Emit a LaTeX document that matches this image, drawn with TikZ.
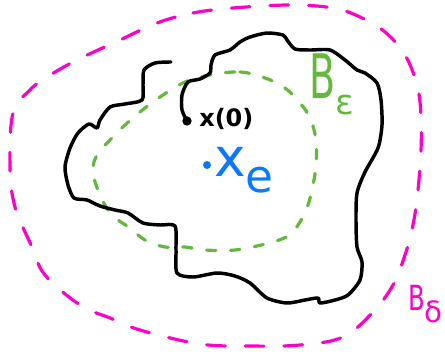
\documentclass[tikz,border=0pt]{standalone}
\usepackage{fontspec}
\setsansfont{DejaVu Sans}
\definecolor{mag}{RGB}{255,0,200}
\definecolor{grn}{RGB}{100,185,60}
\definecolor{blu}{RGB}{10,120,255}
\tikzset{
  traj/.style={line width=2.6pt, line join=round, line cap=round},
  greenball/.style={grn, line width=2.4pt, line cap=round, dash pattern=on 7pt off 11pt},
  pinkball/.style={mag, line width=2.4pt, line cap=round, dash pattern=on 14pt off 15pt},
  lbl/.style={inner sep=0pt, font=\sffamily},
}
\begin{document}
\begin{tikzpicture}[x=0.75pt,y=-0.75pt]
\useasboundingbox (0,0) rectangle (445,353);
% outer magenta dashed region B_delta
\draw[pinkball] plot[smooth cycle, tension=0.6] coordinates {
 (157,23) (193,13) (233,8) (290,5) (333,8) (360,17) (385,32) (405,55) (417,85)
 (421,115) (421,150) (418,190) (413,225) (405,255) (393,285) (373,312) (343,337)
 (300,345) (250,346) (200,344) (140,330) (110,318) (80,305) (45,275) (32,247)
 (15,207) (10,167) (13,113) (30,90) (47,77) (77,60) (120,40)};
% green dashed region B_epsilon
\draw[greenball] plot[smooth cycle, tension=0.6] coordinates {
 (210,75) (240,72) (265,78) (285,88) (300,103) (310,118) (316,140) (316,165)
 (313,185) (308,205) (300,222) (288,236) (265,244) (235,250) (205,250) (185,247)
 (165,247) (145,240) (130,228) (112,215) (100,195) (93,172) (97,155) (110,140)
 (125,125) (140,112) (160,97) (185,82)};
% trajectory
\node[circle, fill=black, inner sep=0pt, minimum size=7pt] (x0dot) at (187,121) {};
\draw[traj] plot[smooth, tension=0.45] coordinates {
 (171,62) (155,63) (144,70) (143,85) (142,100) (125,104) (110,107) (100,120)
 (97,128) (89,124) (78,133) (70,148) (65,167) (68,185) (74,198) (87,200)
 (100,206) (115,210) (128,213) (143,223) (160,225) (175,226) (176,250) (177,273)
 (193,277) (217,273) (235,276) (250,283) (267,298) (287,303) (305,300) (318,298)
 (320,303) (335,300) (348,295) (360,280) (362,262) (357,247) (356,220) (357,193)
 (365,172) (378,148) (382,125) (381,100) (377,83) (365,73) (357,70) (345,60)
 (330,50) (310,50) (295,49) (287,40) (283,35) (267,33) (250,37) (240,42) (230,50)
 (215,55) (211,65) (210,73) (200,79) (188,82) (182,95) (182,110) (x0dot.center)};
% labels
\node[lbl, font=\sffamily\bfseries\fontsize{18}{18}\selectfont, anchor=west] (x0) at (199,119) {x(0)};
\node[circle, fill=blu, inner sep=0pt, minimum size=6pt] (xedot) at (207,165) {};
\node[lbl, blu, anchor=west, font=\sffamily\fontsize{40}{40}\selectfont] (xe) at (214,170) {x\raisebox{-0.3em}{\fontsize{34}{34}\selectfont e}};
\node[lbl, grn, anchor=north west, font=\sffamily\fontsize{46}{46}\selectfont] (be) at (309,54) {\scalebox{0.62}[1]{B}\raisebox{-0.25em}{\fontsize{26}{26}\selectfont ε}};
\node[lbl, mag, anchor=north west, font=\sffamily\fontsize{26}{26}\selectfont] (bd) at (408,285) {\scalebox{0.7}[1]{B}\raisebox{-0.35em}{\fontsize{22}{22}\selectfont δ}};
\end{tikzpicture}
\end{document}
